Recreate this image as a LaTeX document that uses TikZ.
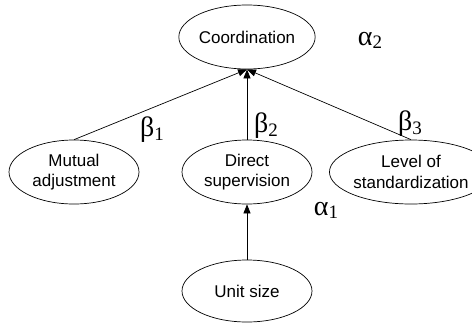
\documentclass[tikz,border=0pt]{standalone}
\usepackage{fontspec}
\setmainfont{Liberation Sans}
\newfontfamily\greekfont{Liberation Serif}
\usetikzlibrary{shapes.geometric,arrows.meta}
\newcommand{\grk}[2]{{\greekfont\fontsize{28}{28}\selectfont #1\raisebox{-0.25ex}{\fontsize{19}{19}\selectfont #2}}}
\begin{document}
\begin{tikzpicture}[x=1pt,y=-1pt,
  var/.style={ellipse,draw,line width=0.7pt,inner sep=0pt,minimum width=130pt,minimum height=64pt,
    align=center,font=\fontsize{17}{20.5}\selectfont},
  arr/.style={line width=0.7pt,-{Triangle[length=9pt,width=7pt]}},
  coef/.style={inner sep=0pt,anchor=center}]
\useasboundingbox (0,0) rectangle (472,325);
\node[var] (co) at (247,37) {Coordination};
\node[var] (ma) at (74,172) {Mutual\\adjustment};
\node[var] (ds) at (247,172) {Direct\\supervision};
\node[var,minimum width=120pt] (ls) at (411,172) {Level of\\standardization};
\node[var,minimum height=62pt] (us) at (247,291) {Unit size};
\draw[arr] (ma.north) -- (co.south);
\draw[arr] (ds.north) -- (co.south);
\draw[arr] (ls.north) -- (co.south);
\draw[arr] (us.north) -- (ds.south);
\node[coef] (a2) at (370,40) {\grk{α}{2}};
\node[coef] (b1) at (152,130) {\grk{β}{1}};
\node[coef] (b2) at (266,126) {\grk{β}{2}};
\node[coef] (b3) at (410,124) {\grk{β}{3}};
\node[coef] (a1) at (326,210) {\grk{α}{1}};
\end{tikzpicture}
\end{document}
